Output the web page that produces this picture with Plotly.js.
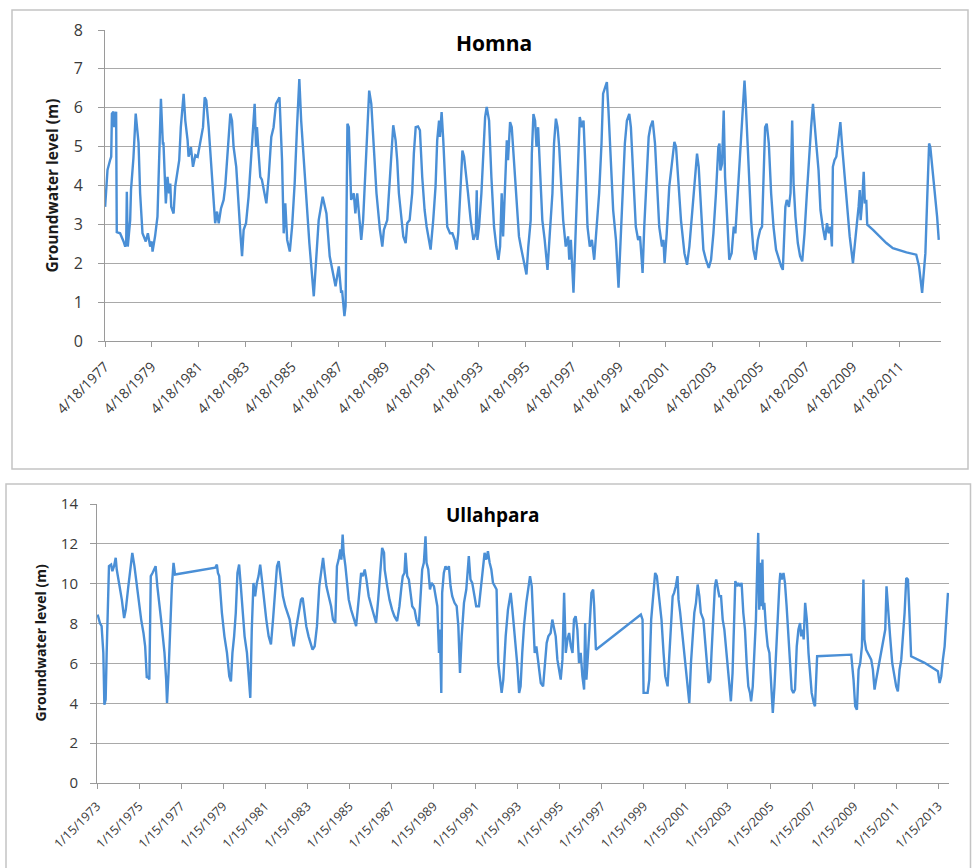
<!DOCTYPE html>
<html>
<head>
<meta charset="utf-8">
<script src="https://cdn.plot.ly/plotly-3.0.1.min.js"></script>
<style>
  html, body { margin: 0; padding: 0; background: #ffffff; }
  #chart { width: 972px; height: 868px; }
</style>
</head>
<body>
<div id="chart"></div>
<script>
// ---------------- DATA ----------------
// Homna: decimal year of each reading and groundwater level (m)
const homnaYears = [
  1977.30,1977.40,1977.51,1977.56,1977.59,1977.66,1977.69,1977.77,1977.80,1977.94,
  1978.09,1978.16,1978.20,1978.23,1978.27,1978.37,1978.41,1978.51,1978.61,1978.73,
  1978.80,1978.90,1979.04,1979.13,1979.23,1979.30,1979.33,1979.44,1979.54,1979.63,
  1979.69,1979.77,1979.80,1979.90,1979.97,1980.04,1980.09,1980.13,1980.23,1980.30,
  1980.41,1980.47,1980.54,1980.66,1980.73,1980.83,1980.87,1980.97,1981.06,1981.16,
  1981.26,1981.37,1981.49,1981.56,1981.63,1981.73,1981.80,1981.91,1982.01,1982.09,
  1982.16,1982.26,1982.37,1982.44,1982.56,1982.66,1982.73,1982.80,1982.91,1983.01,
  1983.09,1983.16,1983.23,1983.33,1983.44,1983.54,1983.61,1983.70,1983.76,1983.80,
  1983.87,1983.94,1984.01,1984.20,1984.30,1984.41,1984.51,1984.61,1984.76,1984.81,
  1984.87,1984.94,1985.01,1985.09,1985.20,1985.30,1985.41,1985.51,1985.61,1985.69,
  1985.80,1985.91,1986.04,1986.23,1986.33,1986.44,1986.61,1986.69,1986.77,1986.91,
  1987.04,1987.16,1987.30,1987.40,1987.44,1987.54,1987.59,1987.63,1987.67,1987.73,
  1987.83,1987.94,1988.01,1988.09,1988.19,1988.26,1988.34,1988.47,1988.54,1988.60,
  1988.69,1988.83,1988.91,1989.06,1989.16,1989.23,1989.37,1989.49,1989.56,1989.63,
  1989.73,1989.80,1989.87,1989.97,1990.06,1990.16,1990.23,1990.33,1990.44,1990.51,
  1990.59,1990.69,1990.77,1990.87,1990.97,1991.06,1991.16,1991.23,1991.34,1991.44,
  1991.51,1991.59,1991.63,1991.70,1991.77,1991.84,1991.94,1992.06,1992.16,1992.26,
  1992.34,1992.41,1992.51,1992.59,1992.66,1992.73,1992.83,1992.94,1993.06,1993.16,
  1993.20,1993.23,1993.30,1993.40,1993.49,1993.56,1993.63,1993.73,1993.83,1993.94,
  1994.04,1994.13,1994.20,1994.27,1994.33,1994.41,1994.49,1994.54,1994.63,1994.70,
  1994.80,1994.90,1995.01,1995.09,1995.20,1995.33,1995.41,1995.51,1995.56,1995.63,
  1995.70,1995.76,1995.83,1995.91,1996.01,1996.11,1996.23,1996.33,1996.44,1996.51,
  1996.59,1996.66,1996.73,1996.80,1996.90,1997.01,1997.11,1997.16,1997.23,1997.30,
  1997.34,1997.40,1997.49,1997.54,1997.61,1997.70,1997.77,1997.84,1997.94,1998.04,
  1998.13,1998.23,1998.33,1998.44,1998.54,1998.61,1998.70,1998.77,1998.84,1998.94,
  1999.04,1999.16,1999.23,1999.27,1999.34,1999.44,1999.54,1999.63,1999.73,1999.80,
  1999.90,2000.01,2000.11,2000.19,2000.26,2000.30,2000.37,2000.47,2000.56,2000.63,
  2000.73,2000.83,2000.91,2001.01,2001.13,2001.19,2001.24,2001.33,2001.44,2001.56,
  2001.66,2001.73,2001.83,2001.94,2002.09,2002.20,2002.30,2002.44,2002.54,2002.63,
  2002.70,2002.80,2002.90,2003.01,2003.13,2003.23,2003.33,2003.44,2003.54,2003.59,
  2003.63,2003.70,2003.77,2003.83,2003.91,2004.01,2004.11,2004.20,2004.27,2004.37,
  2004.47,2004.56,2004.66,2004.70,2004.76,2004.84,2004.94,2005.04,2005.13,2005.23,
  2005.33,2005.41,2005.47,2005.54,2005.61,2005.70,2005.80,2005.90,2006.01,2006.13,
  2006.23,2006.30,2006.34,2006.41,2006.47,2006.56,2006.63,2006.70,2006.76,2006.84,
  2006.94,2007.04,2007.13,2007.23,2007.33,2007.41,2007.51,2007.59,2007.66,2007.73,
  2007.83,2007.91,2008.01,2008.11,2008.19,2008.27,2008.34,2008.40,2008.44,2008.51,
  2008.59,2008.69,2008.76,2008.84,2008.94,2009.04,2009.16,2009.30,2009.40,2009.47,
  2009.54,2009.59,2009.63,2009.69,2009.76,2009.81,2009.87,2009.91,2010.16,2010.44,
  2010.73,2011.01,2011.30,2011.59,2012.01,2012.13,2012.26,2012.33,2012.40,2012.47,
  2012.56,2012.61,2012.70,2012.80,2012.90,2012.97
];
const homnaLevels = [
  3.45,4.4,4.65,4.74,5.85,5.9,5.5,5.9,2.8,2.77,
  2.56,2.43,2.5,3.84,2.43,3.1,3.9,4.7,5.85,5.1,
  3.8,2.77,2.56,2.77,2.43,2.56,2.3,2.7,3.2,5.08,
  6.23,5.08,5.08,3.54,4.22,3.8,4.05,3.45,3.28,3.97,
  4.48,4.65,5.5,6.36,5.67,5.16,4.74,4.99,4.48,4.78,
  4.74,5.08,5.5,6.27,6.19,5.5,4.9,3.8,3.03,3.33,
  3.03,3.41,3.63,3.97,5.16,5.85,5.67,4.99,4.48,3.37,
  2.77,2.18,2.86,3.03,3.71,4.65,5.25,6.1,4.99,5.5,
  4.82,4.22,4.15,3.54,4.22,5.25,5.5,6.1,6.27,5.5,
  4.65,2.77,3.54,2.6,2.3,2.94,4.05,5.5,6.74,5.67,
  4.65,3.8,2.52,1.15,2.09,3.11,3.71,3.45,3.28,2.18,
  1.75,1.41,1.92,1.24,1.3,0.64,0.9,3.88,5.59,5.5,
  3.63,3.8,3.28,3.8,2.94,2.6,3.11,4.74,5.5,6.44,
  6.1,4.65,3.8,2.86,2.43,2.86,3.11,4.22,4.99,5.55,
  5.16,4.65,3.8,3.2,2.69,2.52,3.03,3.11,3.8,4.82,
  5.5,5.52,5.42,4.22,3.37,2.94,2.6,2.35,3.11,3.97,
  5.16,5.67,5.25,5.89,5.16,4.22,2.94,2.77,2.77,2.6,
  2.35,2.77,3.97,4.9,4.74,4.39,3.8,3.11,2.6,2.77,
  3.88,2.6,2.94,3.8,5.08,5.76,6.02,5.67,4.22,2.94,
  2.43,2.09,2.43,3.8,2.69,4.22,5.16,4.65,5.63,5.5,
  4.65,3.8,2.69,2.43,2.09,1.71,2.43,3.11,4.82,5.84,
  5.67,4.99,5.5,4.22,3.11,2.6,1.83,2.77,3.8,5.08,
  5.72,5.5,4.99,4.22,3.11,2.43,2.69,2.09,2.6,1.75,
  1.24,2.26,3.8,4.82,5.76,5.5,5.67,4.65,2.94,2.43,
  2.6,2.09,2.94,3.8,5.08,6.36,6.53,6.66,5.93,4.65,
  3.37,2.6,1.92,1.37,2.35,3.8,5.08,5.67,5.84,5.5,
  4.22,2.94,2.6,2.69,2.09,1.75,2.94,4.22,5.25,5.5,
  5.67,5.08,3.97,2.94,2.43,2.6,2.0,2.77,3.97,4.65,
  5.12,4.99,4.22,3.11,2.26,1.96,2.43,3.37,4.22,4.82,
  4.48,3.37,2.35,2.09,1.88,2.09,2.77,3.8,4.99,5.08,
  4.39,4.56,5.93,4.22,3.11,2.09,2.26,2.94,2.77,3.8,
  4.65,5.5,6.7,6.27,5.5,4.22,3.11,2.35,2.09,2.6,
  2.86,2.94,4.22,5.5,5.59,5.08,3.8,2.94,2.35,2.09,
  1.92,1.83,2.35,3.45,3.63,3.45,3.8,5.67,4.05,3.2,
  2.52,2.18,2.05,2.77,3.8,4.65,5.5,6.1,5.5,5.08,
  4.39,3.37,2.94,2.6,3.03,2.77,2.94,2.43,4.48,4.65,
  4.74,5.25,5.63,4.99,4.22,3.37,2.69,2.0,2.52,3.03,
  3.45,3.88,3.11,3.54,4.35,3.54,3.63,2.99,2.86,2.69,
  2.52,2.39,2.33,2.28,2.22,1.92,1.24,1.66,2.26,3.54,
  5.08,4.99,4.48,3.8,3.2,2.6
];

// Ullahpara: decimal year of each reading and groundwater level (m)
const ullahparaYears = [
  1973.07,1973.18,1973.26,1973.34,1973.39,1973.45,1973.50,1973.55,1973.61,1973.71,
  1973.77,1973.85,1973.93,1973.98,1974.09,1974.22,1974.33,1974.41,1974.53,1974.64,
  1974.72,1974.82,1974.93,1975.04,1975.14,1975.25,1975.33,1975.41,1975.48,1975.53,
  1975.60,1975.68,1975.75,1975.83,1975.91,1976.01,1976.09,1976.17,1976.25,1976.33,
  1976.37,1976.44,1976.52,1976.60,1976.68,1976.75,1978.66,1978.74,1978.79,1978.85,
  1978.98,1979.10,1979.22,1979.33,1979.41,1979.48,1979.56,1979.64,1979.72,1979.80,
  1979.88,1979.96,1980.06,1980.17,1980.25,1980.33,1980.40,1980.48,1980.56,1980.64,
  1980.72,1980.80,1980.88,1980.99,1981.09,1981.20,1981.31,1981.41,1981.52,1981.60,
  1981.68,1981.79,1981.88,1981.99,1982.10,1982.20,1982.31,1982.39,1982.50,1982.63,
  1982.74,1982.82,1982.90,1982.99,1983.10,1983.18,1983.29,1983.39,1983.50,1983.61,
  1983.71,1983.79,1983.87,1983.95,1984.06,1984.17,1984.26,1984.37,1984.45,1984.53,
  1984.61,1984.66,1984.72,1984.77,1984.85,1984.93,1985.01,1985.12,1985.25,1985.36,
  1985.48,1985.60,1985.68,1985.77,1985.85,1985.96,1986.09,1986.20,1986.31,1986.41,
  1986.52,1986.60,1986.69,1986.72,1986.84,1986.95,1987.07,1987.18,1987.31,1987.42,
  1987.52,1987.58,1987.66,1987.71,1987.79,1987.87,1987.95,1988.03,1988.14,1988.23,
  1988.34,1988.42,1988.50,1988.58,1988.66,1988.71,1988.79,1988.87,1988.95,1989.06,
  1989.14,1989.22,1989.30,1989.34,1989.41,1989.45,1989.53,1989.61,1989.69,1989.77,
  1989.85,1989.93,1990.04,1990.14,1990.22,1990.30,1990.38,1990.49,1990.60,1990.72,
  1990.80,1990.88,1990.99,1991.07,1991.20,1991.31,1991.39,1991.47,1991.55,1991.63,
  1991.71,1991.79,1991.87,1991.96,1992.04,1992.12,1992.20,1992.28,1992.36,1992.47,
  1992.58,1992.71,1992.79,1992.87,1992.95,1993.03,1993.11,1993.18,1993.26,1993.34,
  1993.45,1993.55,1993.63,1993.71,1993.79,1993.85,1993.93,1994.03,1994.14,1994.25,
  1994.34,1994.42,1994.50,1994.61,1994.69,1994.77,1994.85,1994.93,1995.01,1995.09,
  1995.17,1995.25,1995.33,1995.41,1995.49,1995.57,1995.65,1995.72,1995.80,1995.88,
  1995.96,1996.04,1996.12,1996.20,1996.25,1996.31,1996.39,1996.47,1996.55,1996.63,
  1996.68,1996.76,1998.90,1998.98,1999.03,1999.22,1999.30,1999.39,1999.49,1999.58,
  1999.66,1999.77,1999.88,1999.98,2000.06,2000.17,2000.25,2000.33,2000.41,2000.48,
  2000.56,2000.64,2000.69,2000.77,2000.85,2000.93,2001.04,2001.12,2001.20,2001.28,
  2001.36,2001.44,2001.52,2001.60,2001.68,2001.75,2001.87,2001.96,2002.04,2002.12,
  2002.20,2002.26,2002.34,2002.42,2002.48,2002.55,2002.63,2002.71,2002.79,2002.87,
  2002.95,2003.02,2003.10,2003.18,2003.26,2003.34,2003.39,2003.47,2003.53,2003.61,
  2003.69,2003.77,2003.85,2003.93,2004.01,2004.09,2004.14,2004.22,2004.29,2004.37,
  2004.44,2004.48,2004.53,2004.58,2004.63,2004.68,2004.72,2004.77,2004.85,2004.93,
  2005.01,2005.09,2005.17,2005.25,2005.33,2005.41,2005.49,2005.53,2005.60,2005.68,
  2005.75,2005.83,2005.91,2005.99,2006.07,2006.15,2006.23,2006.31,2006.39,2006.47,
  2006.52,2006.60,2006.64,2006.71,2006.79,2006.87,2006.95,2007.02,2007.12,2007.18,
  2007.28,2008.90,2009.01,2009.09,2009.17,2009.25,2009.33,2009.41,2009.48,2009.53,
  2009.61,2009.69,2009.77,2009.85,2009.93,2010.01,2010.09,2010.25,2010.41,2010.52,
  2010.58,2010.64,2010.75,2010.85,2010.96,2011.04,2011.12,2011.20,2011.28,2011.36,
  2011.44,2011.52,2011.60,2011.68,2011.75,2012.39,2013.02,2013.10,2013.18,2013.26,
  2013.34,2013.42,2013.50
];
const ullahparaLevels = [
  8.45,8.03,7.87,6.53,3.93,4.18,6.53,9.2,10.88,10.96,
  10.63,10.88,11.3,10.71,10.04,9.2,8.28,8.7,9.87,11.05,
  11.55,10.88,9.87,9.04,8.2,7.53,6.86,5.27,5.36,5.19,
  10.38,10.54,10.71,10.88,9.87,9.04,8.2,7.36,6.53,5.19,
  4.02,5.52,8.2,9.87,11.05,10.46,10.8,10.96,10.54,10.38,
  8.54,7.36,6.53,5.36,5.1,6.53,7.36,8.54,10.54,10.96,
  9.87,8.54,7.36,6.53,5.52,4.27,7.7,10.04,9.37,10.04,
  10.38,10.96,10.21,9.04,8.2,7.36,6.95,8.2,9.87,10.88,
  11.13,10.21,9.37,8.87,8.54,8.2,7.36,6.86,7.7,8.54,
  9.2,9.29,8.54,7.87,7.36,7.03,6.69,6.86,7.87,9.87,
  10.71,11.3,10.54,9.87,9.37,8.87,8.2,8.03,10.88,11.21,
  11.72,11.21,12.47,11.55,10.88,9.87,9.2,8.7,8.2,7.87,
  9.2,10.54,10.38,10.71,10.21,9.37,8.87,8.37,8.03,9.2,
  10.71,11.8,11.55,10.71,9.87,9.2,8.7,8.37,8.12,8.87,
  9.87,10.38,10.54,11.55,10.38,10.21,9.54,8.87,8.7,8.2,
  7.87,9.2,10.71,11.05,12.38,11.05,10.71,9.71,10.04,9.87,
  9.37,8.87,6.53,7.7,4.52,9.54,10.54,10.88,10.71,10.88,
  9.87,9.37,9.04,8.87,7.87,5.52,7.36,9.04,9.71,11.38,
  10.21,10.04,9.37,8.87,8.87,9.87,10.71,11.55,11.21,11.63,
  11.05,10.71,10.04,9.87,9.71,6.03,5.19,4.52,5.19,7.36,
  8.7,9.54,8.7,7.7,7.03,5.86,4.52,4.85,6.53,7.87,
  9.04,9.87,10.38,9.87,8.2,6.53,6.86,5.86,5.02,4.85,
  6.19,7.03,7.36,7.53,8.2,7.7,7.36,6.19,5.69,5.19,
  6.19,9.54,6.53,7.2,7.53,6.86,6.53,8.2,8.37,7.7,
  6.03,6.53,5.36,4.69,8.03,5.19,6.53,8.2,9.54,9.71,
  8.87,6.69,8.45,8.2,4.52,4.52,5.19,8.2,9.54,10.54,
  10.38,9.37,8.2,6.53,5.36,4.85,6.53,8.2,9.37,9.54,
  9.87,10.38,9.2,8.54,7.7,6.53,5.52,4.85,4.02,6.03,
  7.36,8.54,9.04,9.96,9.37,8.54,8.2,7.2,6.03,5.02,
  5.19,6.53,8.54,9.87,10.21,9.71,9.37,9.37,8.2,7.7,
  6.86,6.03,5.02,4.1,5.52,8.2,10.13,9.87,10.04,9.87,
  10.04,8.54,7.7,6.03,4.85,4.52,4.1,4.85,6.53,8.2,
  11.21,12.55,8.7,11.05,8.87,11.21,8.7,9.04,7.7,6.86,
  6.53,4.85,3.51,4.85,6.86,8.87,10.04,10.54,10.21,10.54,
  10.04,8.87,7.36,6.03,4.69,4.52,4.69,6.86,7.7,8.03,
  7.36,7.7,7.2,9.04,8.2,6.53,5.52,4.52,4.02,3.85,
  6.36,6.44,5.19,3.85,3.68,5.69,6.03,6.86,10.21,7.2,
  6.69,6.53,6.36,6.19,5.69,4.69,5.19,6.19,7.2,7.7,
  9.87,8.87,7.36,6.03,5.19,4.85,4.6,5.69,6.19,7.36,
  8.54,10.29,10.21,8.2,6.36,6.03,5.61,5.02,5.36,6.19,
  6.86,8.2,9.54
];

// Tick labels and titles
const homnaTickLabels = ['4/18/1977','4/18/1979','4/18/1981','4/18/1983','4/18/1985','4/18/1987',
  '4/18/1989','4/18/1991','4/18/1993','4/18/1995','4/18/1997','4/18/1999','4/18/2001',
  '4/18/2003','4/18/2005','4/18/2007','4/18/2009','4/18/2011'];
const ullahparaTickLabels = ['1/15/1973','1/15/1975','1/15/1977','1/15/1979','1/15/1981',
  '1/15/1983','1/15/1985','1/15/1987','1/15/1989','1/15/1991','1/15/1993','1/15/1995',
  '1/15/1997','1/15/1999','1/15/2001','1/15/2003','1/15/2005','1/15/2007','1/15/2009',
  '1/15/2011','1/15/2013'];
const homnaYTicks = [0,1,2,3,4,5,6,7,8];
const ullahparaYTicks = [0,2,4,6,8,10,12,14];
const homnaTitle = 'Homna';
const ullahparaTitle = 'Ullahpara';
const yTitle = 'Groundwater level (m)';

// ---------------- HELPERS ----------------
function yearToISO(y) {
  const yr = Math.floor(y);
  const start = Date.UTC(yr, 0, 1), end = Date.UTC(yr + 1, 0, 1);
  return new Date(start + (y - yr) * (end - start)).toISOString().slice(0, 10);
}
function labelToISO(s) {
  const p = s.split('/');
  return p[2] + '-' + p[0].padStart(2, '0') + '-' + p[1].padStart(2, '0');
}

// ---------------- STYLE / LAYOUT ----------------
const W = 972, H = 868;
const px = v => v / W;          // pixel -> paper x
const py = v => 1 - v / H;      // pixel -> paper y

const lineColor = '#4a8fd6';
const gridColor = '#a9a9a9';
const axisColor = '#9a9a9a';
const tickFontColor = '#3a3a3a';
const fontFamily = '"Open Sans", "DejaVu Sans", sans-serif';

const traces = [
  {
    x: homnaYears.map(yearToISO), y: homnaLevels,
    type: 'scatter', mode: 'lines', xaxis: 'x', yaxis: 'y',
    line: { color: lineColor, width: 2.4 }, showlegend: false
  },
  {
    x: ullahparaYears.map(yearToISO), y: ullahparaLevels,
    type: 'scatter', mode: 'lines', xaxis: 'x2', yaxis: 'y2',
    line: { color: lineColor, width: 2.4 }, showlegend: false
  }
];

const baseY = {
  showgrid: true, gridcolor: gridColor, gridwidth: 1,
  zeroline: false, showline: true, linecolor: axisColor, linewidth: 1,
  ticks: 'outside', ticklen: 6, tickcolor: axisColor,
  tickmode: 'array', fixedrange: true
};
const baseX = {
  type: 'date', showgrid: false, zeroline: false,
  showline: true, linecolor: axisColor, linewidth: 1,
  ticks: 'outside', ticklen: 5, tickcolor: axisColor,
  tickmode: 'array', tickangle: -45, fixedrange: true
};

const layout = {
  width: W, height: H, autosize: false,
  margin: { l: 0, r: 0, t: 0, b: 0, pad: 0 },
  paper_bgcolor: '#ffffff', plot_bgcolor: '#ffffff',
  font: { family: fontFamily, color: tickFontColor },
  xaxis: Object.assign({}, baseX, {
    domain: [px(105), px(941)], anchor: 'y',
    range: ['1977-04-18', '2013-01-25'],
    tickvals: homnaTickLabels.map(labelToISO), ticktext: homnaTickLabels,
    tickfont: { size: 14, color: tickFontColor, family: fontFamily },
    ticklabelstandoff: 6
  }),
  yaxis: Object.assign({}, baseY, {
    domain: [py(341), py(30)], anchor: 'x',
    range: [0, 8], tickvals: homnaYTicks,
    tickfont: { size: 16, color: tickFontColor, family: fontFamily },
    ticklabelstandoff: 12
  }),
  xaxis2: Object.assign({}, baseX, {
    domain: [px(97), px(949)], anchor: 'y2',
    range: ['1973-01-15', '2013-07-20'],
    tickvals: ullahparaTickLabels.map(labelToISO), ticktext: ullahparaTickLabels,
    tickfont: { size: 12.5, color: tickFontColor, family: fontFamily },
    ticklabelstandoff: 5
  }),
  yaxis2: Object.assign({}, baseY, {
    domain: [py(783), py(504)], anchor: 'x2',
    range: [0, 14], tickvals: ullahparaYTicks,
    tickfont: { size: 15, color: tickFontColor, family: fontFamily },
    ticklabelstandoff: 9
  }),
  shapes: [
    { type: 'rect', xref: 'paper', yref: 'paper',
      x0: px(12), x1: px(968), y0: py(469), y1: py(10),
      line: { color: '#c4c4c4', width: 1.5 }, fillcolor: 'rgba(0,0,0,0)', layer: 'below' },
    { type: 'rect', xref: 'paper', yref: 'paper',
      x0: px(6), x1: px(970.5), y0: py(880), y1: py(484),
      line: { color: '#c4c4c4', width: 1.5 }, fillcolor: 'rgba(0,0,0,0)', layer: 'below' }
  ],
  annotations: [
    { text: '<b>' + homnaTitle + '</b>', xref: 'paper', yref: 'paper',
      x: px(494), y: py(43), xanchor: 'center', yanchor: 'middle', showarrow: false,
      font: { size: 21, color: '#000000', family: fontFamily } },
    { text: '<b>' + ullahparaTitle + '</b>', xref: 'paper', yref: 'paper',
      x: px(493), y: py(515), xanchor: 'center', yanchor: 'middle', showarrow: false,
      font: { size: 19, color: '#000000', family: fontFamily } },
    { text: '<b>' + yTitle + '</b>', xref: 'paper', yref: 'paper',
      x: px(51), y: py(185.5), xanchor: 'center', yanchor: 'middle', showarrow: false,
      textangle: -90, font: { size: 15.5, color: '#1a1a1a', family: fontFamily } },
    { text: '<b>' + yTitle + '</b>', xref: 'paper', yref: 'paper',
      x: px(40), y: py(643.5), xanchor: 'center', yanchor: 'middle', showarrow: false,
      textangle: -90, font: { size: 14, color: '#1a1a1a', family: fontFamily } }
  ]
};

Plotly.newPlot('chart', traces, layout, { staticPlot: true, displayModeBar: false });
</script>
</body>
</html>
